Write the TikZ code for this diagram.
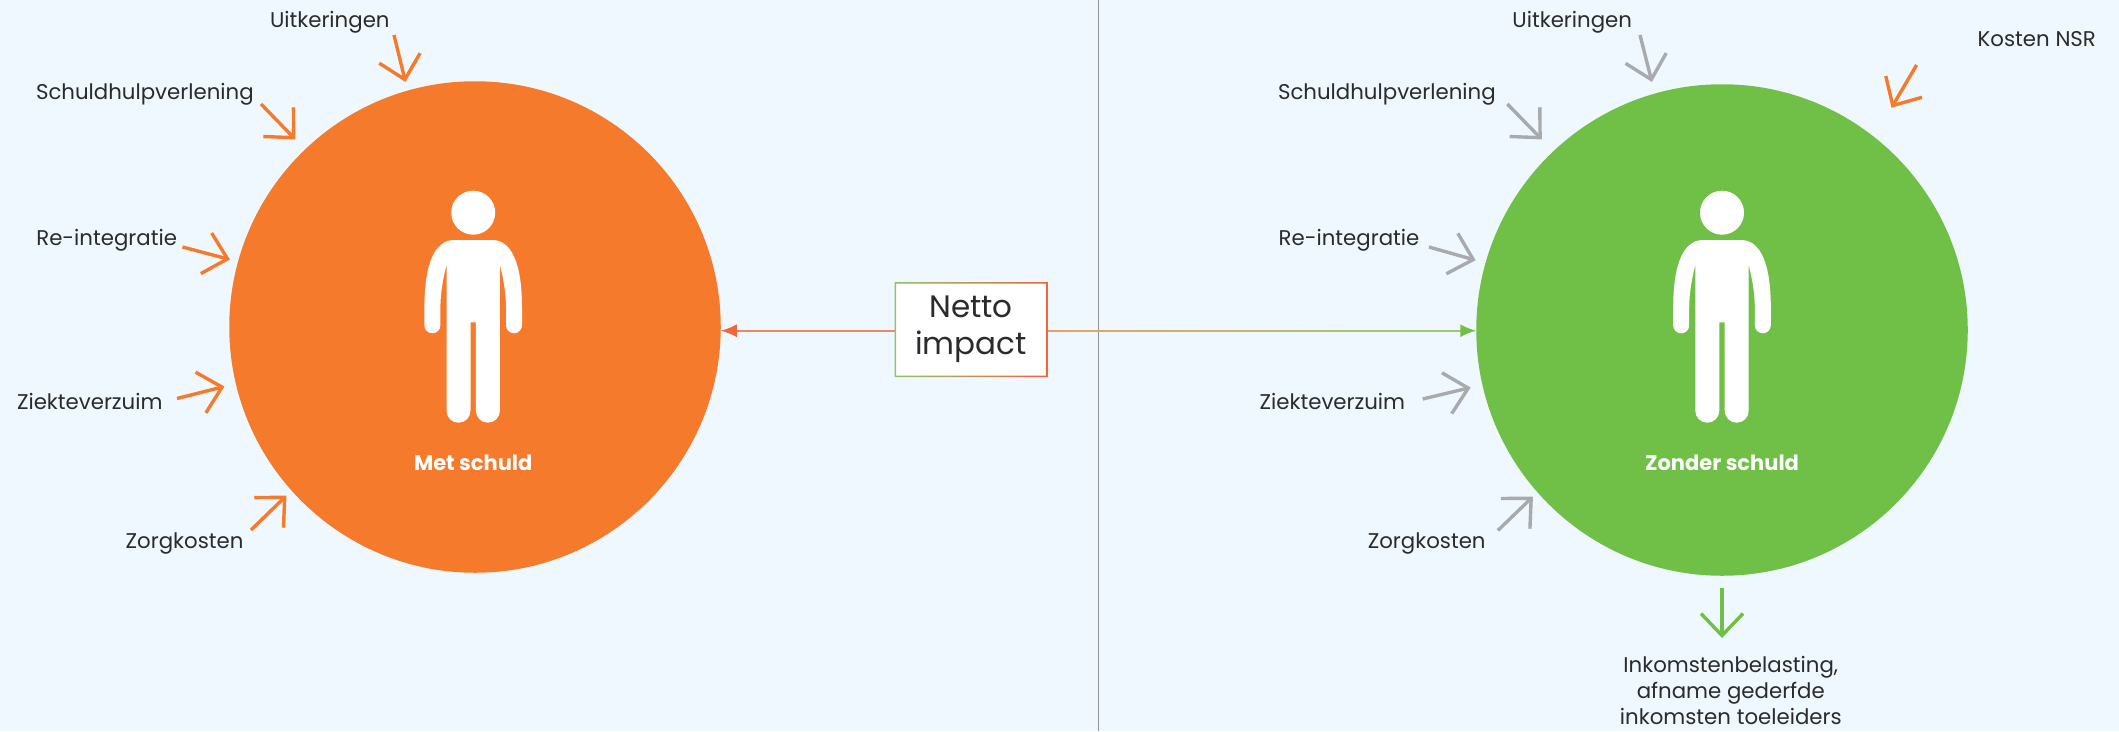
\documentclass[tikz,border=0pt]{standalone}
\usepackage{fontspec}
\setmainfont{Poppins}
\usetikzlibrary{positioning,calc,arrows.meta}
\definecolor{achtergrond}{HTML}{EFF8FE}
\definecolor{schuldoranje}{HTML}{F57A2C}
\definecolor{schuldgroen}{HTML}{70C047}
\definecolor{pijlgrijs}{HTML}{A9AAAE}
\definecolor{nettorood}{HTML}{F2643A}
\definecolor{nettogroen}{HTML}{8CC665}
\definecolor{lijnrood}{HTML}{EE8A62}
\definecolor{lijntan}{HTML}{E9A06A}
\definecolor{lijngroen}{HTML}{9CCB72}
\definecolor{tekst}{HTML}{2B2B2B}
\tikzset{
	persoon/.pic={
		\fill[white] (0,0) circle[radius=22];
		\fill[white] (-19,27.3) -- (19,27.3) .. controls (38,27.3) and (48.8,50) .. (48.8,95) -- (48.8,112.6)
			arc[start angle=0,end angle=180,radius=8] -- (32.8,95) .. controls (32.8,80) and (30,65) .. (26.7,52.3)
			-- (26.7,198) arc[start angle=0,end angle=180,radius=12] -- (2.7,109.6) -- (-2.7,109.6) -- (-2.7,198)
			arc[start angle=0,end angle=180,radius=12] -- (-26.7,52.3) .. controls (-30,65) and (-32.8,80) .. (-32.8,95)
			-- (-32.8,112.6) arc[start angle=0,end angle=180,radius=8] -- (-48.8,95)
			.. controls (-48.8,50) and (-38,27.3) .. (-19,27.3) -- cycle;
	}
}
\begin{document}
\begin{tikzpicture}[x=1pt,y=-1pt,
				label/.style={anchor=west,inner sep=0pt,outer sep=0pt,text=tekst,font=\fontsize{21.3}{26}\selectfont,text height=15pt,text depth=4pt},
				cirkel/.style={circle,minimum size=491.5pt,inner sep=0pt,outer sep=0pt},
				titel/.style={inner sep=0pt,text=white,font=\fontsize{21}{24}\selectfont\bfseries},
				impactpijl/.style={line width=3.4pt,shorten >=-2pt,-{Straight Barb[length=22pt,width=42pt,line width=3.4pt]}},
				lijn/.style={line width=2pt}]
	\path[use as bounding box,fill=achtergrond] (0,0) rectangle (2119,731);
	\coordinate (scheidA) at (1098.5,0);
	\coordinate (scheidB) at (1098.5,731);
	\draw[line width=1.5pt,color=gray!85] (scheidA) -- (scheidB);

	\node (met)    [cirkel,fill=schuldoranje] at (475,327) {};
	\node (zonder) [cirkel,fill=schuldgroen]  at (1722,330) {};
	\pic at (473.2,212.7) {persoon};
	\pic at (1722,212.7) {persoon};
	\node (mettitel)    [titel] at (473.2,463) {Met schuld};
	\node (zondertitel) [titel] at (1722,463)  {Zonder schuld};

	% netto impact
	\node (netto) [minimum width=150pt,minimum height=92pt,inner sep=0pt,outer sep=0pt,fill=white,text=tekst,align=center,
		font=\fontsize{31}{37}\selectfont] at (971,329.7) {Netto\\impact};
	\draw[lijn,color=lijnrood,-{Latex[length=16pt,width=13pt,color=nettorood]}] ([yshift=-1pt]netto.west) -- (met.east |- 0,330.7);
	\draw[lijn,color=lijngroen,-{Latex[length=16pt,width=13pt,color=schuldgroen]}] ([yshift=-1pt]netto.east) -- (zonder.west |- 0,330.7);
	\shade[left color=lijntan,right color=lijngroen] ([yshift=-0.3pt]netto.east) rectangle (1450,331.7);
	\shade[left color=nettogroen,right color=nettorood,even odd rule]
		([shift={(-1.5,-1.5)}]netto.north west) rectangle ([shift={(1.5,1.5)}]netto.south east)
		(netto.north west) rectangle (netto.south east);

	% links
	\node (uitkA)   [label] at (270,21.5)   {Uitkeringen};
	\node (schulpA) [label] at (36,94)  {Schuldhulpverlening};
	\node (reintA)  [label] at (36.3,240) {Re-integratie};
	\node (ziekA)   [label] at (17,404)   {Ziekteverzuim};
	\node (zorgA)   [label] at (125.7,543) {Zorgkosten};
	\coordinate (a1) at (394,35);     \coordinate (a2) at (405,80);
	\coordinate (b1) at (261,104);    \coordinate (b2) at (294,138);
	\coordinate (c1) at (182.5,247);  \coordinate (c2) at (228,259);
	\coordinate (d1) at (177,398.5);  \coordinate (d2) at (222.5,387);
	\coordinate (e1) at (251,530);    \coordinate (e2) at (285,497);
	\draw[impactpijl,color=schuldoranje] (a1) -- (a2);
	\draw[impactpijl,color=schuldoranje] (b1) -- (b2);
	\draw[impactpijl,color=schuldoranje] (c1) -- (c2);
	\draw[impactpijl,color=schuldoranje] (d1) -- (d2);
	\draw[impactpijl,color=schuldoranje] (e1) -- (e2);

	% rechts
	\node (uitkB)   [label] at (1512.4,21.5)   {Uitkeringen};
	\node (schulpB) [label] at (1278,94)   {Schuldhulpverlening};
	\node (reintB)  [label] at (1278.7,240)  {Re-integratie};
	\node (ziekB)   [label] at (1259.6,404)  {Ziekteverzuim};
	\node (zorgB)   [label] at (1367.8,543)  {Zorgkosten};
	\node (kosten)  [label] at (1977.7,40.5) {Kosten NSR};
	\node (inkomst) [label,anchor=north,align=center,text height=,text depth=] at (1730.8,656) {Inkomstenbelasting,\\afname gederfde\\inkomsten toeleiders};
	\coordinate (f1) at (1640,35);      \coordinate (f2) at (1651.4,80);
	\coordinate (g1) at (1507.4,104);   \coordinate (g2) at (1540.4,138);
	\coordinate (h1) at (1429,247);     \coordinate (h2) at (1473.7,259.7);
	\coordinate (i1) at (1422.7,399);   \coordinate (i2) at (1468.7,388);
	\coordinate (j1) at (1497.8,530.5); \coordinate (j2) at (1531.5,498);
	\coordinate (k1) at (1916.6,65);    \coordinate (k2) at (1892.5,106);
	\coordinate (l1) at (1722,588);     \coordinate (l2) at (1722,636);
	\draw[impactpijl,color=pijlgrijs] (f1) -- (f2);
	\draw[impactpijl,color=pijlgrijs] (g1) -- (g2);
	\draw[impactpijl,color=pijlgrijs] (h1) -- (h2);
	\draw[impactpijl,color=pijlgrijs] (i1) -- (i2);
	\draw[impactpijl,color=pijlgrijs] (j1) -- (j2);
	\draw[impactpijl,color=schuldoranje] (k1) -- (k2);
	\draw[impactpijl,color=schuldgroen] (l1) -- (l2);
\end{tikzpicture}
\end{document}
